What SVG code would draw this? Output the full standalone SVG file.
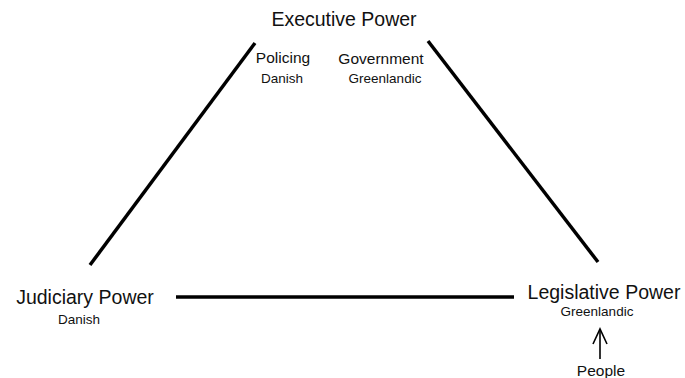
<svg xmlns="http://www.w3.org/2000/svg" width="685" height="378" viewBox="0 0 685 378">
<style>
text{font-family:"Liberation Sans",Arial,sans-serif;fill:#111;text-anchor:middle}
.big{font-size:19.5px}
.mid{font-size:15.5px}
.sm{font-size:13.5px}
.edge{stroke:#000;stroke-width:3.5;stroke-linecap:butt;fill:none}
.arr{stroke:#000;stroke-width:1.6;fill:none}
</style>
<rect width="685" height="378" fill="#fff"/>
<g id="connectors">
<line class="edge" x1="90" y1="265" x2="255" y2="43"/>
<line class="edge" x1="428" y1="41" x2="598" y2="262"/>
<line class="edge" x1="176" y1="297" x2="514" y2="297"/>
<line class="arr" x1="600" y1="359" x2="600" y2="329"/>
<polyline class="arr" points="593,344 600,329 607,344"/>
</g>
<g id="executive">
<text class="big" x="344" y="26">Executive Power</text>
<text class="mid" x="283" y="63">Policing</text>
<text class="sm" x="282" y="83">Danish</text>
<text class="mid" x="381" y="64">Government</text>
<text class="sm" x="385" y="83">Greenlandic</text>
</g>
<g id="judiciary">
<text class="big" x="85" y="304">Judiciary Power</text>
<text class="sm" x="79" y="324">Danish</text>
</g>
<g id="legislative">
<text class="big" x="604" y="299">Legislative Power</text>
<text class="sm" x="597" y="316">Greenlandic</text>
</g>
<g id="people">
<text class="mid" x="601" y="376">People</text>
</g>
</svg>
